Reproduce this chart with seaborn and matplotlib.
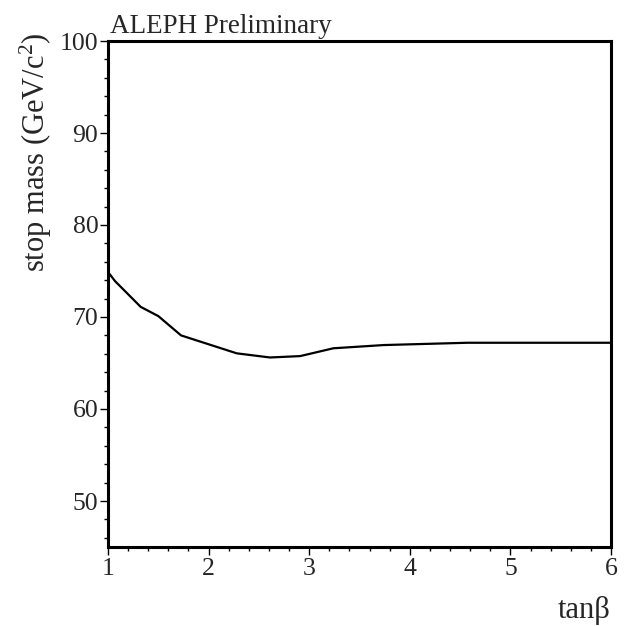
import matplotlib
matplotlib.use("Agg")
import matplotlib.pyplot as plt
import seaborn as sns
import pandas as pd
from matplotlib.ticker import MultipleLocator

tanb = [1.0, 1.07, 1.325, 1.5, 1.726, 2.28, 2.61, 2.91, 3.24, 3.74, 4.57, 6.0]
stop_mass = [74.9, 73.9, 71.1, 70.1, 68.0, 66.05, 65.6, 65.75, 66.6, 66.95, 67.2, 67.2]
xticks = [1, 2, 3, 4, 5, 6]
yticks = [50, 60, 70, 80, 90, 100]

df = pd.DataFrame({"tanb": tanb, "mass": stop_mass})

sns.set_style("ticks")
plt.rcParams["font.family"] = ["Liberation Serif", "DejaVu Serif"]
plt.rcParams["mathtext.fontset"] = "custom"
plt.rcParams["mathtext.rm"] = "Liberation Serif"

fig = plt.figure(figsize=(6.29, 6.26), dpi=100)
ax = fig.add_axes([108/629, 1-547/626, (611-108)/629, (547-41)/626])

sns.lineplot(data=df, x="tanb", y="mass", ax=ax, color="black", linewidth=1.6, sort=False)

ax.set_xlim(1, 6)
ax.set_ylim(45, 100)
ax.set_xticks(xticks)
ax.set_yticks(yticks)
ax.xaxis.set_minor_locator(MultipleLocator(0.2))
ax.yaxis.set_minor_locator(MultipleLocator(2))
ax.tick_params(which="major", direction="out", length=6, width=1, labelsize=18.5, color="black")
ax.tick_params(axis="y", which="major", pad=1)
ax.tick_params(axis="x", which="major", pad=2)
ax.tick_params(which="minor", direction="out", length=3, width=1, color="black")
for s in ax.spines.values():
    s.set_linewidth(2.2)
    s.set_color("black")
ax.set_xlabel("")
ax.set_ylabel("")

fig.text(110/629, 1-33/626, "ALEPH Preliminary", fontsize=19.5, ha="left", va="baseline")
fig.text(36/629, 1-152/626, r"stop mass (GeV/c$\mathregular{^2}$)", fontsize=22, rotation=90,
         ha="center", va="center")
fig.text(611/629, 1-618/626, "tanβ", fontsize=22, ha="right", va="baseline")

fig.savefig("out.png", dpi=100, facecolor="white")
